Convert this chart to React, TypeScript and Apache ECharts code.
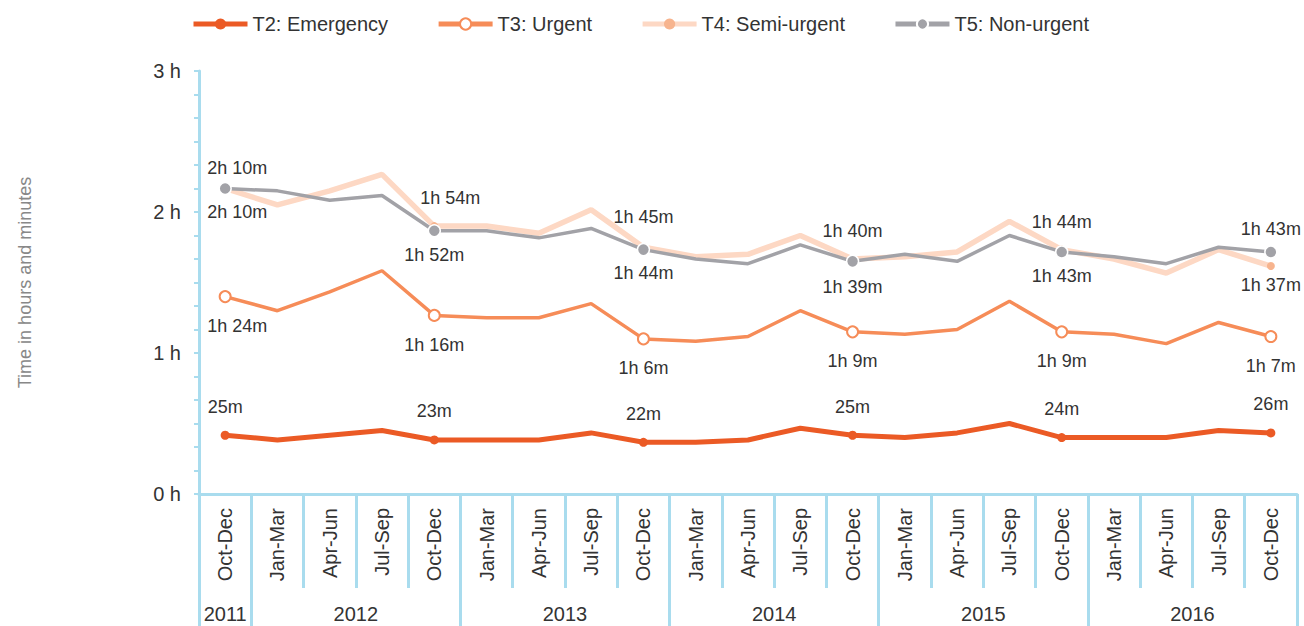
import React, { useEffect, useRef } from "react";
import * as echarts from "echarts";

const quarters = [
  "Oct-Dec",
  "Jan-Mar", "Apr-Jun", "Jul-Sep", "Oct-Dec",
  "Jan-Mar", "Apr-Jun", "Jul-Sep", "Oct-Dec",
  "Jan-Mar", "Apr-Jun", "Jul-Sep", "Oct-Dec",
  "Jan-Mar", "Apr-Jun", "Jul-Sep", "Oct-Dec",
  "Jan-Mar", "Apr-Jun", "Jul-Sep", "Oct-Dec",
];
const years = ["2011", "2012", "2013", "2014", "2015", "2016"];
const quartersPerYear = [1, 4, 4, 4, 4, 4];

// values in minutes
const t2Emergency = [25, 23, 25, 27, 23, 23, 23, 26, 22, 22, 23, 28, 25, 24, 26, 30, 24, 24, 24, 27, 26];
const t3Urgent = [84, 78, 86, 95, 76, 75, 75, 81, 66, 65, 67, 78, 69, 68, 70, 82, 69, 68, 64, 73, 67];
const t4SemiUrgent = [130, 123, 129, 136, 114, 114, 111, 121, 105, 101, 102, 110, 100, 101, 103, 116, 104, 100, 94, 104, 97];
const t5NonUrgent = [130, 129, 125, 127, 112, 112, 109, 113, 104, 100, 98, 106, 99, 102, 99, 110, 103, 101, 98, 105, 103];
const labelledPoints = [0, 4, 8, 12, 16, 20];

const yTicksHours = [0, 1, 2, 3];

const FONT = '"Liberation Sans", Arial, Helvetica, sans-serif';
const TEXT = "#333333";
const AXIS = "#A9DCEE";

const fmt = (m: number) => {
  const h = Math.floor(m / 60);
  const mm = Math.round(m - h * 60);
  return h > 0 ? `${h}h ${mm}m` : `${mm}m`;
};

type LabelSpec = { position: string; distance: number; dx?: number };

function buildData(values: number[], specs: Record<number, LabelSpec>) {
  return values.map((v, i) => {
    if (labelledPoints.includes(i)) {
      const s = specs[i];
      return {
        value: v,
        label: {
          show: true,
          position: s.position,
          distance: s.distance,
          offset: [s.dx || 0, 0],
        },
      };
    }
    return { value: v, symbol: "none" };
  });
}

export default function App() {
  const ref = useRef<HTMLDivElement>(null);

  useEffect(() => {
    if (!ref.current) return;
    const chart = echarts.init(ref.current, null, { renderer: "svg" });

    // year axis: half-step slots across the quarter categories
    const yearData: string[] = new Array(quarters.length * 2 + 1).fill("");
    const yearBounds = new Set<number>();
    let s = 0;
    years.forEach((y, i) => {
      const e = s + quartersPerYear[i] - 1;
      yearData[s + e + 1] = y;
      yearBounds.add(2 * s);
      yearBounds.add(2 * (e + 1));
      s = e + 1;
    });

    const labelStyle = {
      fontFamily: FONT,
      fontSize: 18,
      color: TEXT,
      formatter: (p: any) => fmt(p.value),
    };

    const t2Specs: Record<number, LabelSpec> = {};
    const t3Specs: Record<number, LabelSpec> = {};
    const t4Specs: Record<number, LabelSpec> = {};
    const t5Specs: Record<number, LabelSpec> = {};
    labelledPoints.forEach((i) => {
      t2Specs[i] = { position: "top", distance: 15 };
      t3Specs[i] = { position: "bottom", distance: 14, dx: i === 0 ? 12 : 0 };
      t4Specs[i] = { position: "top", distance: 15, dx: i === 0 ? 12 : 0 };
      t5Specs[i] = { position: "bottom", distance: 8, dx: i === 0 ? 12 : 0 };
    });
    t4Specs[0].distance = 8;
    t4Specs[4].dx = 16;
    t4Specs[8].distance = 17;
    t4Specs[20] = { position: "bottom", distance: 6 };
    t5Specs[12].distance = 10;
    t5Specs[20] = { position: "top", distance: 7 };

    const legendNames = ["T2: Emergency", "T3: Urgent", "T4: Semi-urgent", "T5: Non-urgent"];

    chart.setOption({
      animation: false,
      textStyle: { fontFamily: FONT },
      legend: {
        left: 186,
        top: 9,
        itemWidth: 54,
        itemHeight: 14,
        itemGap: 48,
        lineStyle: { width: 5 },
        textStyle: { fontFamily: FONT, fontSize: 20, color: TEXT },
        data: legendNames,
      },
      grid: { left: 199, right: 7, top: 71, bottom: 132, containLabel: false },
      xAxis: [
        {
          type: "category",
          data: quarters,
          boundaryGap: true,
          axisLine: { show: true, lineStyle: { color: AXIS, width: 3 } },
          axisTick: { show: true, interval: 0, length: 94, lineStyle: { color: AXIS, width: 3 } },
          axisLabel: {
            interval: 0,
            rotate: 90,
            margin: 14,
            fontFamily: FONT,
            fontSize: 20,
            color: TEXT,
          },
          splitLine: { show: false },
        },
        {
          type: "category",
          data: yearData,
          boundaryGap: false,
          position: "bottom",
          offset: 94,
          axisLine: { show: false },
          axisTick: {
            show: true,
            interval: (idx: number) => yearBounds.has(idx),
            length: 40,
            lineStyle: { color: AXIS, width: 3 },
          },
          axisLabel: {
            interval: 0,
            margin: 16,
            fontFamily: FONT,
            fontSize: 20,
            color: TEXT,
          },
          splitLine: { show: false },
        },
      ],
      yAxis: {
        type: "value",
        min: 0,
        max: 180,
        interval: 60,
        name: "Time in hours and minutes",
        nameLocation: "middle",
        nameRotate: 90,
        nameGap: 165,
        nameTextStyle: { fontFamily: FONT, fontSize: 18, color: "#888888" },
        axisLine: { show: true, lineStyle: { color: AXIS, width: 3 } },
        axisTick: { show: true, length: 5, lineStyle: { color: AXIS, width: 2 } },
        minorTick: { show: true, splitNumber: 6, length: 5, lineStyle: { color: AXIS, width: 2 } },
        splitLine: { show: false },
        axisLabel: {
          margin: 18,
          fontFamily: FONT,
          fontSize: 20,
          color: TEXT,
          formatter: (v: number) => (yTicksHours.includes(v / 60) ? `${v / 60} h` : ""),
        },
      },
      series: [
        {
          name: legendNames[0],
          type: "line",
          data: buildData(t2Emergency, t2Specs),
          symbol: "circle",
          symbolSize: 9,
          showAllSymbol: true,
          itemStyle: { color: "#EB5A25" },
          lineStyle: { color: "#EB5A25", width: 5 },
          label: { show: false, ...labelStyle },
          z: 3,
        },
        {
          name: legendNames[1],
          type: "line",
          data: buildData(t3Urgent, t3Specs),
          symbol: "emptyCircle",
          symbolSize: 11,
          showAllSymbol: true,
          itemStyle: { color: "#F68C58", borderColor: "#F68C58", borderWidth: 2.5 },
          lineStyle: { color: "#F68C58", width: 3.5 },
          label: { show: false, ...labelStyle },
          z: 3,
        },
        {
          name: legendNames[2],
          type: "line",
          data: buildData(t4SemiUrgent, t4Specs),
          symbol: "circle",
          symbolSize: 8,
          showAllSymbol: true,
          itemStyle: { color: "#F7B48E" },
          lineStyle: { color: "#FDD8C4", width: 5.5 },
          label: { show: false, ...labelStyle },
          z: 2,
        },
        {
          name: legendNames[3],
          type: "line",
          data: buildData(t5NonUrgent, t5Specs),
          symbol: "circle",
          symbolSize: 12,
          showAllSymbol: true,
          itemStyle: { color: "#A2A2A7", borderColor: "#ffffff", borderWidth: 1.5 },
          lineStyle: { color: "#A2A2A7", width: 3.5 },
          label: { show: false, ...labelStyle },
          z: 3,
        },
      ],
    });

    return () => chart.dispose();
  }, []);

  return (
    <div
      ref={ref}
      style={{ position: "fixed", left: 0, top: 0, width: 1304, height: 626, background: "#ffffff" }}
    />
  );
}
